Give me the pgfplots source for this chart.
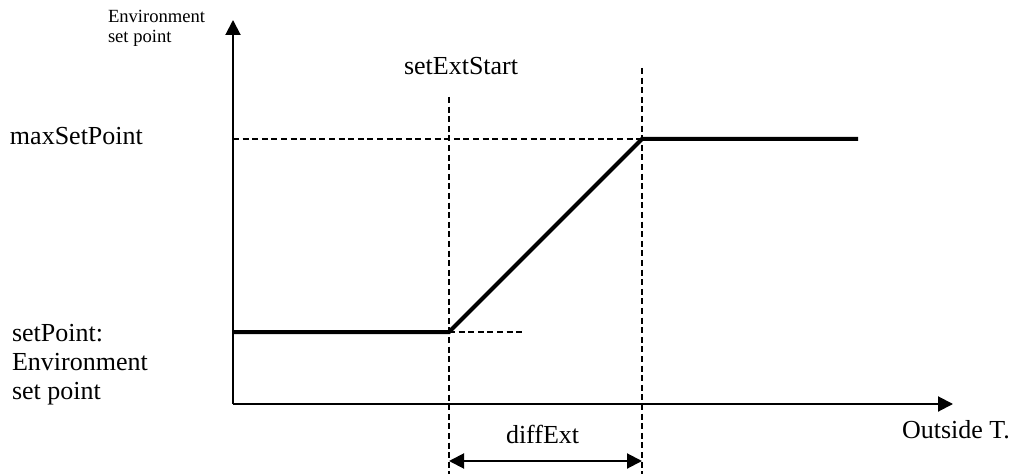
\documentclass[border=0pt]{standalone}
\usepackage{fontspec}
\setmainfont{Liberation Serif}
\usepackage{pgfplots}
\pgfplotsset{compat=1.18}
\usetikzlibrary{arrows.meta}
\tikzset{lbl/.style={anchor=base west, inner sep=0pt, outer sep=0pt, font=\fontsize{13pt}{15pt}\selectfont},
         slbl/.style={anchor=base west, inner sep=0pt, outer sep=0pt, font=\fontsize{9.3pt}{11pt}\selectfont}}
\begin{document}
\begin{tikzpicture}
\begin{axis}[
  scale only axis, width=507.5pt, height=237.5pt,
  xmin=0, xmax=1015, ymin=0, ymax=475, y dir=reverse,
  hide axis, clip=false,
]
\coordinate (BL) at (axis cs:0,475);
\coordinate (TR) at (axis cs:1015,0);
% axes with arrows
\addplot[black, line width=1pt, -{Triangle[length=7.5pt, width=7.5pt]}] coordinates {(233,404) (233,20)};
\addplot[black, line width=1pt, -{Triangle[length=7.5pt, width=7.5pt]}] coordinates {(233,404) (953,404)};
% dashed guides
\addplot[black, line width=0.9pt, dash pattern=on 3pt off 1.8pt] coordinates {(449,97) (449,474)};
\addplot[black, line width=0.9pt, dash pattern=on 3pt off 1.8pt] coordinates {(642,68) (642,474)};
\addplot[black, line width=0.9pt, dash pattern=on 3pt off 1.8pt] coordinates {(233,139) (642,139)};
\addplot[black, line width=0.9pt, dash pattern=on 3pt off 1.8pt] coordinates {(449,332) (522,332)};
% main curve
\addplot[black, line width=2pt, line join=miter] coordinates {(233,332) (449,332) (642,139) (858,139)};
% dimension arrow
\addplot[black, line width=1pt, {Triangle[length=7.5pt, width=7.5pt]}-{Triangle[length=7.5pt, width=7.5pt]}] coordinates {(449,461) (642,461)};
% labels
\node[slbl] at (axis cs:108,23) {Environment};
\node[slbl] at (axis cs:108,43) {set point};
\node[lbl] at (axis cs:10,145) {maxSetPoint};
\node[lbl] at (axis cs:404,75) {setExtStart};
\node[lbl] at (axis cs:12,341) {setPoint:};
\node[lbl] at (axis cs:12,370) {Environment};
\node[lbl] at (axis cs:12,399) {set point};
\node[lbl] at (axis cs:506,443) {diffExt};
\node[lbl] at (axis cs:902,438) {Outside T.};
\end{axis}
\pgfresetboundingbox
\path (BL) rectangle (TR);
\end{tikzpicture}
\end{document}
